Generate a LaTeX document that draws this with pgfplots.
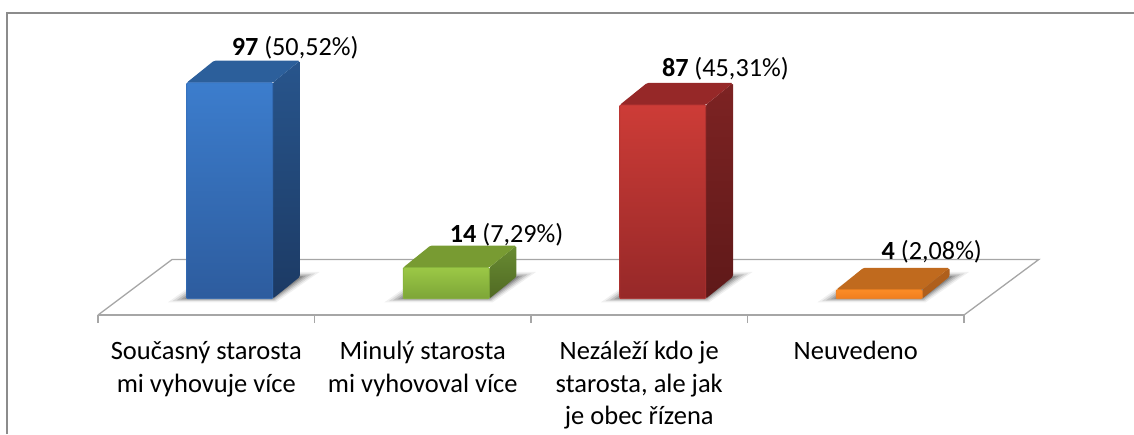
\documentclass[border=0pt]{standalone}
\usepackage{pgfplots}
\usepackage{pgfplotstable}
\usepackage{fontspec}
\setmainfont{Carlito}
\pgfplotsset{compat=1.18}
\definecolor{floorc}{RGB}{166,166,166}
\definecolor{framec}{RGB}{140,140,140}
\pgfplotstableread{
x y
-0.285 -1.6
0.215 -1.6
0.415 12.0
-0.090 12.0
}\shadowA
\pgfplotstableread{
x y
-0.265 -1.1
0.210 -1.1
0.395 11.4
-0.086 11.4
}\shadowB
\pgfplotstableread{
x y
-0.245 -0.7
0.206 -0.7
0.375 10.9
-0.082 10.9
}\shadowC
\pgfplotstableread{
x y
-0.225 -0.3
0.202 -0.3
0.355 10.4
-0.078 10.4
}\shadowD
\pgfplotstableread{
x y
-0.208 0
0.199 0
0.338 10
-0.074 10
}\shadowE
\begin{document}
\begin{tikzpicture}
\useasboundingbox (-98pt,-119pt) rectangle (1036pt,315pt);
\draw[framec,line width=1.6pt] (-91pt,-119pt) -- (-91pt,302pt) -- (1036pt,302pt);
\begin{axis}[
  scale only axis,
  width=866pt,height=302pt,
  xmin=-0.6083,xmax=3.3917,
  ymin=-7.32,ymax=128.3,
  clip=false,
  axis x line*=bottom,
  axis y line=none,
  x axis line style={floorc,line width=1.3pt},
  xtick={-0.6083,0.3917,1.3917,2.3917,3.3917},
  x tick label as interval,
  xticklabels={{Současný starosta\\mi vyhovuje více},{Minulý starosta\\mi vyhovoval více},{Nezáleží kdo je\\starosta, ale jak\\je obec řízena},{Neuvedeno}},
  xticklabel style={align=center,anchor=north,font=\fontsize{26.5}{32.5}\selectfont,yshift=-15pt},
  tick align=outside,
  major tick length=8pt,
  x tick style={floorc,line width=1.3pt},
  ytick=\empty,
]
% floor
\addplot[floorc,line width=1.3pt] coordinates {(-0.6083,-7.32) (-0.2665,17.6) (3.7371,17.6) (3.3917,-7.32)};
% shadows
\pgfplotsinvokeforeach{0,1,2,3}{
  \addplot[draw=none,fill=black,fill opacity=0.06] table[x expr=\thisrow{x}+#1,y=y] {\shadowA} -- cycle;
  \addplot[draw=none,fill=black,fill opacity=0.09] table[x expr=\thisrow{x}+#1,y=y] {\shadowB} -- cycle;
  \addplot[draw=none,fill=black,fill opacity=0.12] table[x expr=\thisrow{x}+#1,y=y] {\shadowC} -- cycle;
  \addplot[draw=none,fill=black,fill opacity=0.15] table[x expr=\thisrow{x}+#1,y=y] {\shadowD} -- cycle;
  \addplot[draw=none,fill=black,fill opacity=0.18] table[x expr=\thisrow{x}+#1,y=y] {\shadowE} -- cycle;
}
% blue 97
\addplot[draw=none,rounded corners=1.5pt,top color={rgb,255:red,40;green,85;blue,140},bottom color={rgb,255:red,28;green,58;blue,100}] coordinates {(0.1986,0) (0.3247,9.88) (0.3247,106.88) (0.1986,97)} -- cycle;
\addplot[draw=none,rounded corners=1.5pt,fill={rgb,255:red,44;green,95;blue,155}] coordinates {(-0.1986,97) (0.1986,97) (0.3247,106.88) (-0.0725,106.88)} -- cycle;
\addplot[ybar,bar width=86pt,bar shift=0pt,rounded corners=1pt,draw={rgb,255:red,52;green,110;blue,185},line width=0.8pt,top color={rgb,255:red,60;green,125;blue,205},bottom color={rgb,255:red,45;green,92;blue,158}] coordinates {(0,97)};
% green 14
\addplot[draw=none,rounded corners=1.5pt,top color={rgb,255:red,105;green,140;blue,50},bottom color={rgb,255:red,80;green,105;blue,35}] coordinates {(1.1986,0) (1.3247,9.88) (1.3247,23.88) (1.1986,14)} -- cycle;
\addplot[draw=none,rounded corners=1.5pt,fill={rgb,255:red,120;green,155;blue,50}] coordinates {(0.8014,14) (1.1986,14) (1.3247,23.88) (0.9275,23.88)} -- cycle;
\addplot[ybar,bar width=86pt,bar shift=0pt,rounded corners=1pt,draw={rgb,255:red,135;green,180;blue,60},line width=0.8pt,top color={rgb,255:red,155;green,200;blue,70},bottom color={rgb,255:red,125;green,165;blue,55}] coordinates {(1,14)};
% red 87
\addplot[draw=none,rounded corners=1.5pt,top color={rgb,255:red,125;green,35;blue,35},bottom color={rgb,255:red,95;green,25;blue,25}] coordinates {(2.1986,0) (2.3247,9.88) (2.3247,96.88) (2.1986,87)} -- cycle;
\addplot[draw=none,rounded corners=1.5pt,fill={rgb,255:red,150;green,40;blue,40}] coordinates {(1.8014,87) (2.1986,87) (2.3247,96.88) (1.9275,96.88)} -- cycle;
\addplot[ybar,bar width=86pt,bar shift=0pt,rounded corners=1pt,draw={rgb,255:red,180;green,52;blue,50},line width=0.8pt,top color={rgb,255:red,205;green,60;blue,55},bottom color={rgb,255:red,150;green,40;blue,40}] coordinates {(2,87)};
% orange 4
\addplot[draw=none,rounded corners=1.5pt,fill={rgb,255:red,175;green,95;blue,28}] coordinates {(3.1986,0) (3.3247,9.88) (3.3247,13.88) (3.1986,4)} -- cycle;
\addplot[draw=none,rounded corners=1.5pt,fill={rgb,255:red,192;green,106;blue,30}] coordinates {(2.8014,4) (3.1986,4) (3.3247,13.88) (2.9275,13.88)} -- cycle;
\addplot[ybar,bar width=86pt,bar shift=0pt,rounded corners=1pt,draw={rgb,255:red,240;green,130;blue,35},line width=0.8pt,top color={rgb,255:red,252;green,140;blue,38},bottom color={rgb,255:red,240;green,125;blue,30}] coordinates {(3,4)};
% labels
\node[font=\fontsize{26.2}{30}\selectfont,inner sep=0pt] at (axis cs:0.3023,112.7) {\textbf{97} (50,52\%)};
\node[font=\fontsize{26.2}{30}\selectfont,inner sep=0pt] at (axis cs:1.2790,28.8) {\textbf{14} (7,29\%)};
\node[font=\fontsize{26.2}{30}\selectfont,inner sep=0pt] at (axis cs:2.2895,103.3) {\textbf{87} (45,31\%)};
\node[font=\fontsize{26.2}{30}\selectfont,inner sep=0pt] at (axis cs:3.2430,21.3) {\textbf{4} (2,08\%)};
\end{axis}
\end{tikzpicture}
\end{document}
